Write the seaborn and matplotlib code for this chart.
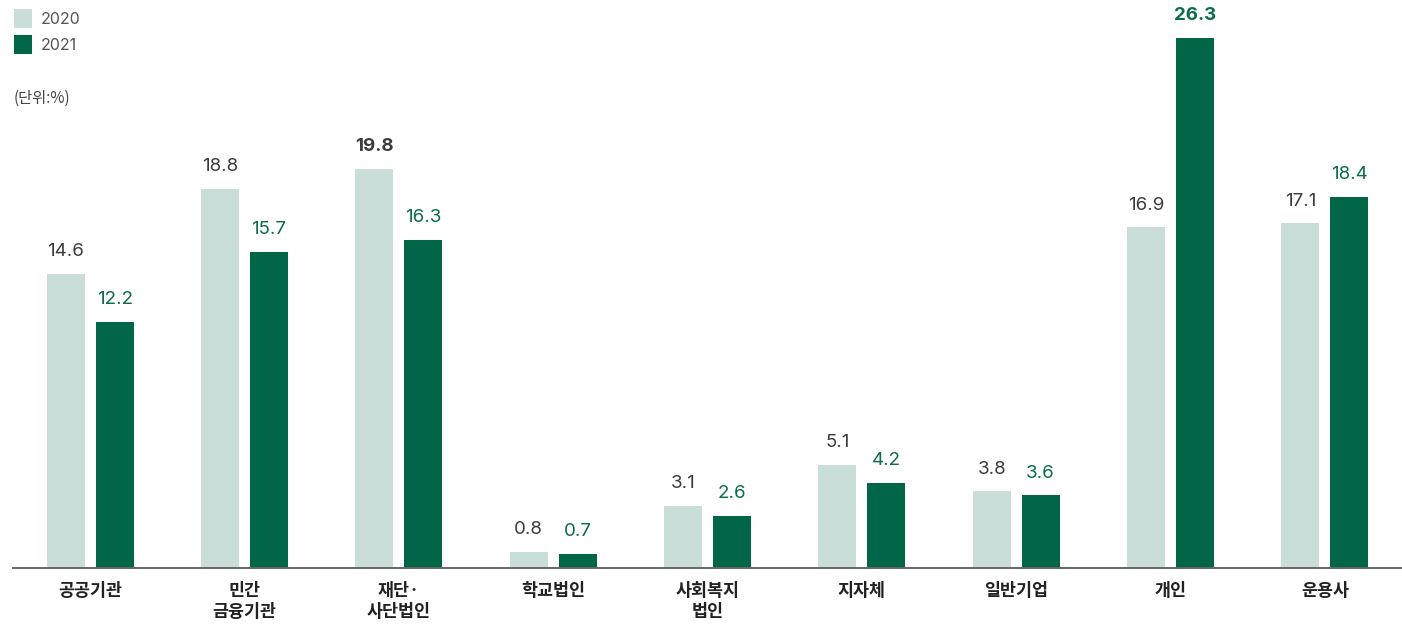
import pandas as pd
import matplotlib.pyplot as plt
import seaborn as sns

# data
categories = ['공공기관', '민간\n금융기관', '재단·\n사단법인', '학교법인', '사회복지\n법인',
              '지자체', '일반기업', '개인', '운용사']
values_2020 = [14.6, 18.8, 19.8, 0.8, 3.1, 5.1, 3.8, 16.9, 17.1]
values_2021 = [12.2, 15.7, 16.3, 0.7, 2.6, 4.2, 3.6, 26.3, 18.4]
years = ['2020', '2021']

light = '#c9ded8'
dark = '#006647'

df = pd.DataFrame({
    'cat': categories * 2,
    'year': [years[0]] * len(categories) + [years[1]] * len(categories),
    'value': values_2020 + values_2021,
})

sns.set_style('white')
plt.rcParams['font.family'] = ['Noto Sans CJK KR', 'DejaVu Sans']

fig = plt.figure(figsize=(14.02, 6.25), dpi=100)
ax = fig.add_axes([13 / 1402, 57 / 625, 1389 / 1402, 568 / 625])

sns.barplot(data=df, x='cat', y='value', hue='year', ax=ax,
            palette=[light, dark], width=0.634, gap=0.224, saturation=1,
            linewidth=0)

ax.set_xlim(-0.5, 8.5)
ax.set_ylim(0, 28.19)

# value labels, max of each series in bold
label_colors = ['#3c3c3c', '#0b6b4b']
for cont, vals, col in zip(ax.containers, [values_2020, values_2021], label_colors):
    texts = ax.bar_label(cont, labels=[f'{v:.1f}' for v in vals], padding=10,
                         color=col, fontsize=13.5, family=['Inter', 'DejaVu Sans'])
    top = vals.index(max(vals))
    texts[top].set_fontweight('bold')

for s in ['left', 'right', 'top']:
    ax.spines[s].set_visible(False)
ax.spines['bottom'].set_color('#666666')
ax.spines['bottom'].set_linewidth(1.4)
ax.set_yticks([])
ax.set_xlabel('')
ax.set_ylabel('')
ax.tick_params(axis='x', length=0, pad=10)
for lbl in ax.get_xticklabels():
    lbl.set_fontsize(12.5)
    lbl.set_fontweight('bold')
    lbl.set_color('#222222')
    lbl.set_linespacing(1.2)

leg = ax.legend(loc='upper left', bbox_to_anchor=(14 / 1402, 1 - 9 / 625),
                bbox_transform=fig.transFigure, frameon=False,
                borderpad=0, borderaxespad=0,
                handlelength=1.15, handleheight=1.45, handletextpad=0.5,
                labelspacing=0.45, fontsize=11.5)
for t in leg.get_texts():
    t.set_color('#555555')
    t.set_family(['Inter', 'DejaVu Sans'])

fig.text(14 / 1402, 1 - 98 / 625, '(단위:%)', fontsize=11, color='#444444', va='center')

fig.savefig('out.png', dpi=100)
